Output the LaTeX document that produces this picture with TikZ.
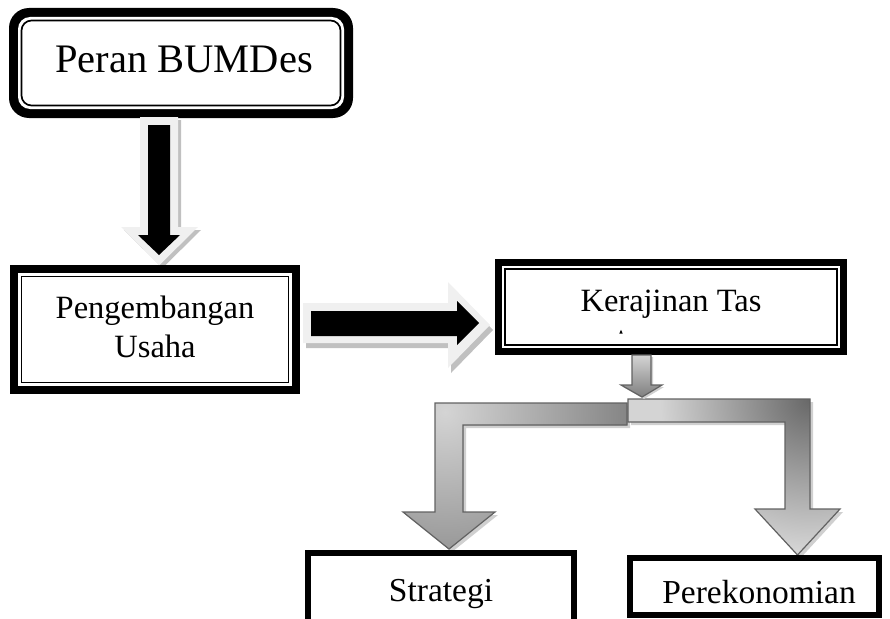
\documentclass[tikz,border=0pt]{standalone}
\usepackage{fontspec}
\setmainfont{Liberation Serif}
\definecolor{glow}{HTML}{F0F0F0}
\definecolor{glowshadow}{HTML}{C0C0C0}
\definecolor{arrlight}{HTML}{D4D4D4}
\definecolor{arrdark}{HTML}{686868}
\definecolor{arredge}{HTML}{626262}
\definecolor{arrshadow}{HTML}{D0D0D0}
\tikzset{
  lbl/.style={inner sep=0pt, anchor=base},
  big/.style={font=\fontsize{40.5}{48}\selectfont},
  mid/.style={font=\fontsize{32.5}{39}\selectfont},
  low/.style={font=\fontsize{33.5}{40}\selectfont},
  edgeline/.style={draw=arredge, line width=1.2pt, line join=miter},
  thinline/.style={line width=1.7pt},
  heavy/.style={line width=6pt}
}
\begin{document}
\begin{tikzpicture}[x=1pt,y=-1pt]
\useasboundingbox (0,0) rectangle (890,618);
\clip (0,0) rectangle (890,618);

% ---------- Peran BUMDes box ----------
\fill[black, rounded corners=20pt] (9,8) rectangle (353,118);
\fill[white, rounded corners=12pt] (18,17) rectangle (344,109);
\draw[thinline, rounded corners=10pt] (21.5,20.5) rectangle (340.5,105.5);
\node[lbl, big] (peran) at (184,72) {Peran BUMDes};

% ---------- down arrow (black with glow) ----------
\fill[glowshadow, shift={(3,3)}] (140,117) -- (178,117) -- (178,227) -- (198,227) -- (159.5,265) -- (121,227) -- (140,227) -- cycle;
\fill[glow] (140,117) -- (178,117) -- (178,227) -- (198,227) -- (159.5,265) -- (121,227) -- (140,227) -- cycle;
\fill[black] (148,125) -- (170,125) -- (170,235) -- (180,235) -- (159,255) -- (138,235) -- (148,235) -- cycle;

% ---------- Pengembangan Usaha box ----------
\fill[black] (10,265) rectangle (300,394);
\fill[white] (18,273) rectangle (292,386);
\draw[thinline] (21.5,276.5) rectangle (288.5,382.5);
\node[lbl, mid] (peng1) at (155,318) {Pengembangan};
\node[lbl, mid] (peng2) at (155,357) {Usaha};

% ---------- right arrow (black with glow) ----------
\fill[glowshadow, shift={(3,5)}] (303,303) -- (448,303) -- (448,282) -- (490,325) -- (448,368) -- (448,343) -- (303,343) -- cycle;
\fill[glow] (303,303) -- (448,303) -- (448,282) -- (490,325) -- (448,368) -- (448,343) -- (303,343) -- cycle;
\fill[black] (311,311) -- (457,311) -- (457,301) -- (479,323) -- (457,345) -- (457,336) -- (311,336) -- cycle;

% ---------- Kerajinan Tas box ----------
\fill[black] (495,259) rectangle (847,355);
\fill[white] (502,266) rectangle (840,348);
\draw[thinline] (505,269) rectangle (837,345);
\node[lbl, mid] (kerajinan) at (671,311) {Kerajinan Tas};
\fill[black] (619.3,333.5) -- (621,329.8) -- (622.7,333.5) -- cycle;

% ---------- left bent arrow ----------
\fill[arrshadow, shift={(3,3)}] (627,403) -- (435,403) -- (435,512) -- (403,512) -- (449,549) -- (495,512) -- (463,512) -- (463,425) -- (627,425) -- cycle;
\begin{scope}
\clip (627,403) -- (435,403) -- (435,512) -- (403,512) -- (449,549) -- (495,512) -- (463,512) -- (463,425) -- (627,425) -- cycle;
\fill[arrdark] (380,390) rectangle (640,560);
\shade[inner color=arrlight, outer color=arrdark] (445,412) circle (250);
\end{scope}
\path[edgeline] (627,403) -- (435,403) -- (435,512) -- (403,512) -- (449,549) -- (495,512) -- (463,512) -- (463,425) -- (627,425) -- cycle;

% ---------- right bent arrow ----------
\fill[arrshadow, shift={(3,3)}] (628,399) -- (810,399) -- (810,509) -- (840,509) -- (797.5,555) -- (755,509) -- (785,509) -- (785,422) -- (628,422) -- cycle;
\begin{scope}
\clip (628,399) -- (810,399) -- (810,509) -- (840,509) -- (797.5,555) -- (755,509) -- (785,509) -- (785,422) -- (628,422) -- cycle;
\fill[arrlight] (620,390) rectangle (850,560);
\shade[inner color=arrdark, outer color=arrlight] (810,400) circle (150);
\end{scope}
\path[edgeline] (628,399) -- (810,399) -- (810,509) -- (840,509) -- (797.5,555) -- (755,509) -- (785,509) -- (785,422) -- (628,422) -- cycle;

% ---------- small gray arrow ----------
\fill[arrshadow, shift={(2,2)}] (632,355) -- (651,355) -- (651,385) -- (662,385) -- (642,397) -- (621,385) -- (632,385) -- cycle;
\shade[top color=arrlight, bottom color=arrdark!85, edgeline] (632,355) -- (651,355) -- (651,385) -- (662,385) -- (642,397) -- (621,385) -- (632,385) -- cycle;

% ---------- Strategi box ----------
\draw[heavy] (308,553) rectangle (574,660);
\node[lbl, low] (strategi) at (441,601) {Strategi};

% ---------- Perekonomian box ----------
\draw[heavy] (630,558) rectangle (879,615);
\node[lbl, low] (perekonomian) at (759,603) {Perekonomian};
\end{tikzpicture}
\end{document}
